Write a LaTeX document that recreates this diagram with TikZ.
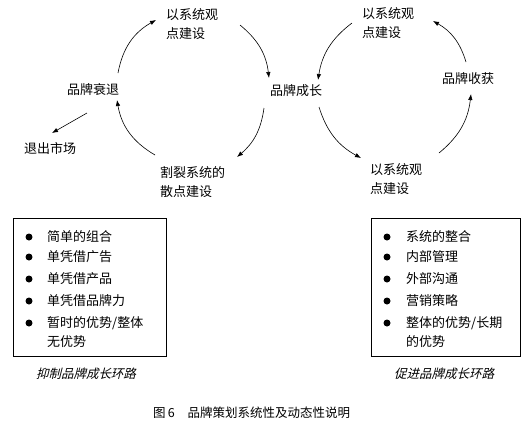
\documentclass[tikz,border=0pt]{standalone}
\usepackage{fontspec}
\setmainfont{Noto Sans CJK SC}
\newfontfamily\cjkit[FakeSlant=0.25]{Noto Sans CJK SC}
\usetikzlibrary{arrows.meta}
\begin{document}
\begin{tikzpicture}[x=1pt,y=-1pt,
  lbl/.style={inner sep=0pt,font=\fontsize{13}{19}\selectfont},
  twoline/.style={lbl,align=left,anchor=north west},
  item/.style={lbl,anchor=west},
  loopcap/.style={inner sep=0pt,font=\fontsize{12.5}{15}\selectfont\cjkit},
  arr/.style={line width=0.6pt,-{Latex[length=6pt,width=4.5pt]}},
  listbox/.style={draw,line width=0.8pt,anchor=north west,inner sep=0pt},
  bullet/.style={circle,fill,inner sep=0pt,minimum size=7pt}]
\useasboundingbox (0,0) rectangle (528,432);
% left cycle labels
\node[twoline] (lt) at (166,8) {以系统观\\点建设};
\node[lbl] (ldec) at (93,90) {品牌衰退};
\node[lbl] (lexit) at (50,148) {退出市场};
\node[twoline] (lb) at (160,166) {割裂系统的\\散点建设};
\node[lbl] (grow) at (296,91) {品牌成长};
% right cycle labels
\node[twoline] (rt) at (362,7) {以系统观\\点建设};
\node[lbl] (harv) at (468,79) {品牌收获};
\node[twoline] (rb) at (370,163) {以系统观\\点建设};
% arc end coordinates
\coordinate (a1s) at (118,73); \coordinate (a1e) at (156,20);
\coordinate (a2s) at (240,25); \coordinate (a2e) at (269,78);
\coordinate (a3s) at (264,108); \coordinate (a3e) at (237,157);
\coordinate (a4s) at (155,155); \coordinate (a4e) at (117,100);
\coordinate (exs) at (87,113); \coordinate (exe) at (52,133);
\coordinate (b1s) at (352,23); \coordinate (b1e) at (318,80);
\coordinate (b2s) at (319,107); \coordinate (b2e) at (361,158);
\coordinate (b3s) at (439,153); \coordinate (b3e) at (471,94);
\coordinate (b4s) at (466,62); \coordinate (b4e) at (433,21);
% arcs
\draw[arr] (a1s) to[bend left=25] (a1e);
\draw[arr] (a2s) to[bend left=22] (a2e);
\draw[arr] (a3s) to[bend left=21] (a3e);
\draw[arr] (a4s) to[bend left=25] (a4e);
\draw[arr] (exs) -- (exe);
\draw[arr] (b1s) to[bend right=22] (b1e);
\draw[arr] (b2s) to[bend right=22] (b2e);
\draw[arr] (b3s) to[bend right=22] (b3e);
\draw[arr] (b4s) to[bend right=22] (b4e);
% left box
\node[listbox,minimum width=153pt,minimum height=138pt] (lbox) at (13,218) {};
\foreach \y/\t [count=\i] in {237/{简单的组合},257/{单凭借广告},279/{单凭借产品},301/{单凭借品牌力},323/{暂时的优势/整体}}{
  \node[bullet] (lbul\i) at (29,\y) {};
  \node[item] (lit\i) at (47,\y) {\t};
}
\node[item] (lit6) at (47,342) {无优势};
\node[loopcap] (lcap) at (86,374) {抑制品牌成长环路};
% right box
\node[listbox,minimum width=149pt,minimum height=138pt] (rbox) at (371,218) {};
\foreach \y/\t [count=\i] in {237/{系统的整合},257/{内部管理},279/{外部沟通},301/{营销策略},323/{整体的优势/长期}}{
  \node[bullet] (rbul\i) at (387,\y) {};
  \node[item] (rit\i) at (406,\y) {\t};
}
\node[item] (rit6) at (406,342) {的优势};
\node[loopcap] (rcap) at (444,374) {促进品牌成长环路};
% figure caption
\node[inner sep=0pt,anchor=west,font=\fontsize{12.5}{15}\selectfont] (fig) at (153,413) {图\,6\hspace{13pt}品牌策划系统性及动态性说明};
\end{tikzpicture}
\end{document}
